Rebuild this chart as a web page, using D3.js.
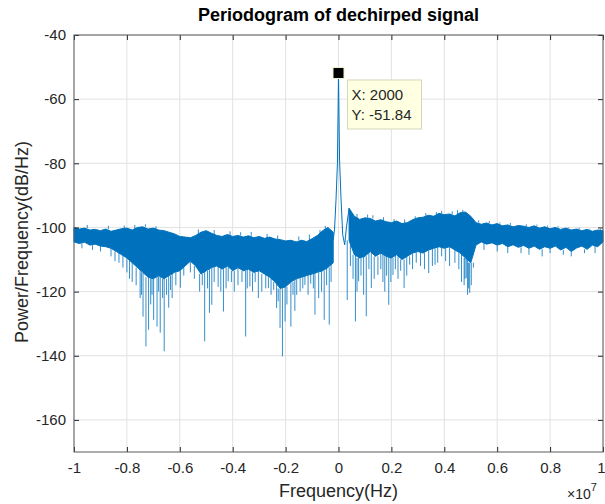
<!DOCTYPE html>
<html>
<head>
<meta charset="utf-8">
<script src="https://cdn.jsdelivr.net/npm/d3@7"></script>
<style>
  body { margin: 0; background: #fff; }
  svg { display: block; font-family: "Liberation Sans", Arial, sans-serif; }
  .axis text { fill: #262626; font-size: 15px; }
  .axis line { stroke: #262626; }
  .axis path { display: none; }
  .grid line { stroke: #e2e2e2; stroke-width: 1; }
</style>
</head>
<body>
<svg id="chart"></svg>
<script>
// frequency in units of 1e7 Hz, power in dB/Hz
const xTicks = [-1, -0.8, -0.6, -0.4, -0.2, 0, 0.2, 0.4, 0.6, 0.8, 1];
const yTicks = [-160, -140, -120, -100, -80, -60, -40];

// dense noise band: top and bottom edge every 0.02
const bandFreq = [
  -1.00, -0.98, -0.96, -0.94, -0.92, -0.90, -0.88, -0.86, -0.84, -0.82,
  -0.80, -0.78, -0.76, -0.74, -0.72, -0.70, -0.68, -0.66, -0.64, -0.62,
  -0.60, -0.58, -0.56, -0.54, -0.52, -0.50, -0.48, -0.46, -0.44, -0.42,
  -0.40, -0.38, -0.36, -0.34, -0.32, -0.30, -0.28, -0.26, -0.24, -0.22,
  -0.20, -0.18, -0.16, -0.14, -0.12, -0.10, -0.08, -0.06, -0.04, -0.02,
  0.00, 0.02, 0.04, 0.06, 0.08, 0.10, 0.12, 0.14, 0.16, 0.18,
  0.20, 0.22, 0.24, 0.26, 0.28, 0.30, 0.32, 0.34, 0.36, 0.38,
  0.40, 0.42, 0.44, 0.46, 0.48, 0.50, 0.52, 0.54, 0.56, 0.58,
  0.60, 0.62, 0.64, 0.66, 0.68, 0.70, 0.72, 0.74, 0.76, 0.78,
  0.80, 0.82, 0.84, 0.86, 0.88, 0.90, 0.92, 0.94, 0.96, 0.98,
  1.00
];
const bandTop = [
  -100.0, -100.5, -100.2, -100.8, -100.6, -101.0, -100.5, -101.2, -100.8, -100.4,
  -100.2, -100.8, -100.0, -99.8, -100.5, -100.2, -100.8, -101.0, -101.5, -102.0,
  -102.8, -103.0, -103.2, -102.5, -101.5, -101.0, -101.8, -102.5, -102.8, -102.2,
  -102.8, -102.5, -103.0, -102.6, -103.2, -102.8, -103.4, -103.0, -103.6, -103.8,
  -104.2, -104.0, -104.5, -104.0, -104.4, -103.5, -102.5, -101.0, -100.0, -101.5,
  null, null, -94.0, -96.5, -97.5, -97.0, -97.2, -98.0, -97.6, -98.2,
  -98.5, -98.0, -98.8, -98.5, -97.6, -97.0, -96.8, -96.2, -96.5, -95.6,
  -96.0, -95.8, -96.4, -95.4, -95.2, -96.5, -98.5, -99.0, -98.6, -99.2,
  -98.8, -99.5, -99.2, -99.8, -99.4, -99.6, -100.0, -99.5, -100.2, -99.8,
  -100.4, -100.0, -100.6, -100.2, -100.8, -100.5, -101.0, -100.6, -101.2, -100.8,
  -101.0
];
const bandBottom = [
  -104.5, -105.0, -104.6, -105.5, -105.2, -105.8, -106.0, -106.5, -107.5, -108.5,
  -109.5, -111.0, -112.5, -114.0, -115.5, -116.0, -115.0, -116.0, -115.0, -114.0,
  -113.5, -112.0, -110.5, -112.0, -114.5, -113.5, -112.5, -112.0, -113.0, -112.0,
  -113.5, -112.5, -113.5, -113.0, -114.0, -113.5, -114.5, -115.5, -117.0, -119.0,
  -118.5, -117.0, -116.0, -115.5, -115.0, -114.5, -114.0, -113.5, -112.5, -111.0,
  null, null, -104.0, -108.5, -109.5, -109.0, -107.5, -109.0, -108.0, -109.0,
  -109.5, -108.5, -110.0, -109.0, -108.0, -107.5, -108.0, -107.0, -106.5, -106.0,
  -106.5, -106.0, -107.0, -108.0, -109.5, -111.0, -105.5, -104.5, -105.2, -104.8,
  -105.5, -105.0, -106.0, -105.4, -106.2, -105.6, -106.5, -105.8, -106.8, -106.0,
  -106.5, -105.8, -107.0, -106.2, -107.5, -106.4, -105.8, -106.8, -105.5, -106.0,
  -104.5
];

// main lobe around the tone
const lobeFreq = [-0.02, -0.015, -0.0095, -0.004, 0, 0.004, 0.0095, 0.016, 0.0235, 0.03, 0.04];
const lobeLevel = [-104.0, -100.5, -91.5, -80.0, -51.84, -79.0, -91.0, -102.3, -105.4, -100.0, -94.0];

// single-bin dips below the band
const dipFreq = [
  -0.97, -0.93, -0.90, -0.86, -0.845, -0.83, -0.815, -0.80, -0.79, -0.78,
  -0.765, -0.75, -0.745, -0.739, -0.728, -0.718, -0.71, -0.705, -0.699, -0.686,
  -0.68, -0.674, -0.665, -0.659, -0.65, -0.642, -0.635, -0.629, -0.615, -0.598,
  -0.585, -0.56, -0.545, -0.525, -0.515, -0.506, -0.495, -0.488, -0.479, -0.47,
  -0.455, -0.445, -0.435, -0.425, -0.417, -0.405, -0.394, -0.38, -0.365, -0.351,
  -0.345, -0.335, -0.325, -0.315, -0.303, -0.29, -0.275, -0.265, -0.255, -0.245,
  -0.234, -0.228, -0.221, -0.212, -0.202, -0.195, -0.180, -0.172, -0.165, -0.158,
  -0.145, -0.135, -0.127, -0.115, -0.105, -0.095, -0.089, -0.075, -0.064, -0.054,
  -0.045, -0.035, -0.028, 0.033, 0.045, 0.055, 0.064, 0.07, 0.076, 0.085,
  0.095, 0.105, 0.115, 0.124, 0.135, 0.149, 0.16, 0.168, 0.175, 0.182,
  0.19, 0.198, 0.206, 0.215, 0.225, 0.235, 0.248, 0.258, 0.269, 0.28,
  0.294, 0.31, 0.325, 0.341, 0.355, 0.365, 0.375, 0.39, 0.405, 0.42,
  0.44, 0.455, 0.465, 0.475, 0.478, 0.483, 0.488, 0.492, 0.496, 0.502,
  0.51, 0.55, 0.60, 0.64, 0.69, 0.72, 0.77, 0.80, 0.85, 0.88,
  0.93, 0.97
];
const dipLevel = [
  -106.5, -107.0, -107.5, -109.0, -110.5, -111.0, -112.5, -114.0, -116.0, -117.0,
  -118.0, -122.0, -121.0, -127.8, -137.1, -131.9, -124.0, -121.0, -128.8, -130.9,
  -120.0, -132.8, -122.0, -138.6, -121.0, -125.0, -119.5, -122.0, -118.0, -118.8,
  -115.0, -114.0, -116.0, -120.0, -118.0, -135.5, -119.0, -126.6, -124.1, -117.0,
  -118.5, -120.0, -126.2, -119.0, -116.8, -117.0, -120.0, -118.0, -117.0, -134.0,
  -119.0, -118.4, -120.0, -117.0, -122.0, -120.0, -119.0, -118.9, -121.0, -119.5,
  -125.1, -123.0, -131.3, -140.2, -129.3, -124.0, -130.9, -121.0, -126.0, -121.0,
  -120.0, -119.0, -117.9, -121.0, -117.5, -119.0, -127.2, -122.0, -120.0, -128.8,
  -118.0, -130.3, -117.0, -122.6, -112.0, -116.0, -129.3, -120.0, -116.8, -115.0,
  -121.0, -127.7, -113.0, -118.9, -116.0, -114.8, -113.0, -117.0, -120.0, -115.0,
  -124.1, -117.0, -114.8, -113.0, -116.0, -113.5, -118.9, -115.0, -111.6, -113.0,
  -111.0, -112.0, -113.0, -114.2, -112.0, -111.6, -111.0, -109.0, -110.5, -112.0,
  -111.0, -113.0, -117.0, -118.0, -116.0, -115.8, -121.0, -119.0, -120.4, -118.0,
  -112.5, -107.0, -107.5, -108.0, -108.0, -108.5, -109.0, -108.0, -108.5, -109.0,
  -108.0, -108.0
];

// small peaks poking above the band
const bumpFreq = [
  -0.95, -0.87, -0.81, -0.77, -0.73, -0.69, -0.53, -0.47, -0.41, -0.37,
  -0.33, -0.27, -0.23, -0.15, -0.11, -0.07, -0.05, 0.07, 0.11, 0.13,
  0.17, 0.21, 0.25, 0.29, 0.33, 0.37, 0.39, 0.43, 0.45, 0.47,
  0.53, 0.57, 0.61, 0.65, 0.71, 0.75, 0.79, 0.83, 0.87, 0.91,
  0.95, 0.99
];
const bumpLevel = [
  -99.2, -99.5, -99.4, -99.2, -99.0, -99.6, -100.6, -100.8, -101.2, -101.5,
  -101.4, -102.0, -102.5, -102.8, -102.2, -100.8, -99.5, -95.8, -96.0, -96.2,
  -96.8, -97.4, -97.5, -96.5, -95.5, -95.2, -94.8, -95.0, -94.6, -94.5,
  -97.8, -98.0, -98.4, -98.6, -99.0, -99.1, -99.4, -99.6, -100.0, -100.1,
  -100.4, -100.5
];

const peak = { freq: 0, level: -51.84, labelX: 'X: 2000', labelY: 'Y: -51.84' };

class Periodogram {

    constructor(_config) {
        this.config = {
            parentElement: _config.parentElement,
            containerWidth: 605,
            containerHeight: 504,
            margin: { top: 35, right: 2, bottom: 52, left: 74 },
            lineColor: '#0072bd'
        };
        this.initVis();
    }

    initVis() {
        let vis = this;
        vis.width = vis.config.containerWidth - vis.config.margin.left - vis.config.margin.right;
        vis.height = vis.config.containerHeight - vis.config.margin.top - vis.config.margin.bottom;

        vis.xScale = d3.scaleLinear().domain([-1, 1]).range([0, vis.width]);
        vis.yScale = d3.scaleLinear().domain([-170, -40]).range([vis.height, 0]);

        vis.svg = d3.select(vis.config.parentElement)
            .attr('width', vis.config.containerWidth)
            .attr('height', vis.config.containerHeight);

        vis.chart = vis.svg.append('g')
            .attr('transform', `translate(${vis.config.margin.left},${vis.config.margin.top})`);

        // grid
        let grid = vis.chart.append('g').attr('class', 'grid');
        grid.selectAll('.gx').data(xTicks).join('line')
            .attr('x1', d => vis.xScale(d)).attr('x2', d => vis.xScale(d))
            .attr('y1', 0).attr('y2', vis.height);
        grid.selectAll('.gy').data(yTicks).join('line')
            .attr('y1', d => vis.yScale(d)).attr('y2', d => vis.yScale(d))
            .attr('x1', 0).attr('x2', vis.width);

        vis.renderVis();
        vis.renderAxes();
        vis.renderDatatip();
    }

    // nearest band sample, used as the root of a dip or bump
    nearest(f, edge, fallback) {
        let j = d3.minIndex(bandFreq, g => Math.abs(g - f));
        return edge[j] === null ? fallback : edge[j];
    }

    renderVis() {
        let vis = this;
        let band = bandFreq.map((f, i) => ({ f: f, top: bandTop[i], bottom: bandBottom[i] }));

        let area = d3.area()
            .defined(d => d.top !== null)
            .x(d => vis.xScale(d.f))
            .y0(d => vis.yScale(d.bottom))
            .y1(d => vis.yScale(d.top));

        vis.chart.append('path')
            .datum(band)
            .attr('fill', vis.config.lineColor)
            .attr('stroke', vis.config.lineColor)
            .attr('stroke-width', 1)
            .attr('d', area);

        let ticks = dipFreq.map((f, i) => ({ f: f, start: vis.nearest(f, bandBottom, -105), level: dipLevel[i] }))
            .concat(bumpFreq.map((f, i) => ({ f: f, start: vis.nearest(f, bandTop, -100), level: bumpLevel[i] })));

        vis.chart.selectAll('.spike').data(ticks).join('line')
            .attr('class', 'spike')
            .attr('x1', d => vis.xScale(d.f)).attr('x2', d => vis.xScale(d.f))
            .attr('y1', d => vis.yScale(d.start))
            .attr('y2', d => vis.yScale(d.level))
            .attr('stroke', vis.config.lineColor)
            .attr('stroke-width', 1)
            .attr('stroke-opacity', 0.8);

        let line = d3.line()
            .x((d, i) => vis.xScale(lobeFreq[i]))
            .y(d => vis.yScale(d));
        vis.chart.append('path')
            .datum(lobeLevel)
            .attr('fill', 'none')
            .attr('stroke', vis.config.lineColor)
            .attr('stroke-width', 1)
            .attr('d', line);
    }

    renderAxes() {
        let vis = this;
        const tick = 5;

        let xAxisG = vis.chart.append('g')
            .attr('class', 'axis x-axis')
            .attr('transform', `translate(0,${vis.height})`)
            .call(d3.axisBottom(vis.xScale).tickValues(xTicks).tickSize(-tick).tickPadding(10)
                .tickFormat(d => String(+d.toFixed(1))));
        // the last label sits on the window edge
        xAxisG.selectAll('.tick text').filter(d => d === 1).attr('dx', -2);

        vis.chart.append('g')
            .attr('class', 'axis')
            .call(d3.axisTop(vis.xScale).tickValues(xTicks).tickSize(-tick).tickFormat(''));

        vis.chart.append('g')
            .attr('class', 'axis y-axis')
            .call(d3.axisLeft(vis.yScale).tickValues(yTicks).tickSize(-tick).tickPadding(8)
                .tickFormat(d => String(d)));
        vis.chart.append('g')
            .attr('class', 'axis')
            .attr('transform', `translate(${vis.width},0)`)
            .call(d3.axisRight(vis.yScale).tickValues(yTicks).tickSize(-tick).tickFormat(''));

        vis.chart.selectAll('.axis text').attr('fill', '#262626');

        // box
        vis.chart.append('rect')
            .attr('x', 0).attr('y', 0)
            .attr('width', vis.width).attr('height', vis.height)
            .attr('fill', 'none')
            .attr('stroke', '#5a5a5a')
            .attr('stroke-width', 1);

        // labels
        vis.svg.append('text')
            .attr('x', vis.config.margin.left + vis.width / 2)
            .attr('y', 21)
            .attr('text-anchor', 'middle')
            .attr('font-size', 18)
            .attr('font-weight', 'bold')
            .attr('fill', '#000')
            .text('Periodogram of dechirped signal');

        vis.svg.append('text')
            .attr('x', vis.config.margin.left + vis.width / 2)
            .attr('y', 497)
            .attr('text-anchor', 'middle')
            .attr('font-size', 18)
            .attr('fill', '#262626')
            .text('Frequency(Hz)');

        vis.svg.append('text')
            .attr('transform', `translate(28,242) rotate(-90)`)
            .attr('text-anchor', 'middle')
            .attr('font-size', 18)
            .attr('fill', '#262626')
            .text('Power/Frequency(dB/Hz)');

        let exp = vis.svg.append('text')
            .attr('x', 567)
            .attr('y', 499)
            .attr('font-size', 14)
            .attr('fill', '#262626');
        exp.append('tspan').text('\u00d710');
        exp.append('tspan').attr('font-size', 11).attr('dy', -8).text('7');
    }

    renderDatatip() {
        let vis = this;
        let px = vis.xScale(peak.freq);
        let py = vis.yScale(peak.level);

        let tip = vis.chart.append('g').attr('class', 'datatip');
        tip.append('rect')
            .attr('x', px + 9).attr('y', py + 7)
            .attr('width', 74).attr('height', 49)
            .attr('fill', '#ffffe1')
            .attr('stroke', '#d6d6b8')
            .attr('stroke-width', 1);
        tip.append('text')
            .attr('x', px + 13).attr('y', py + 27)
            .attr('font-size', 15).attr('fill', '#262626')
            .text(peak.labelX);
        tip.append('text')
            .attr('x', px + 13).attr('y', py + 47)
            .attr('font-size', 15).attr('fill', '#262626')
            .text(peak.labelY);

        tip.append('rect')
            .attr('x', px - 5.5).attr('y', py - 5.5)
            .attr('width', 11).attr('height', 11)
            .attr('fill', '#000')
            .attr('stroke', '#f2f2c8')
            .attr('stroke-width', 1);
    }
}

new Periodogram({ parentElement: '#chart' });
</script>
</body>
</html>
